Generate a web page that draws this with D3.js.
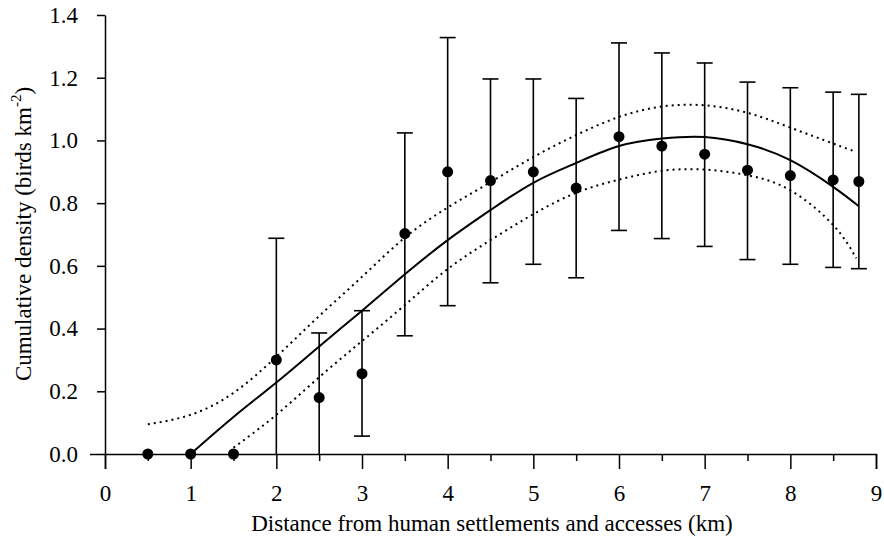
<!DOCTYPE html>
<html>
<head>
<meta charset="utf-8">
<script src="https://cdn.jsdelivr.net/npm/d3@7/dist/d3.min.js"></script>
<style>
  body { margin: 0; background: #fff; }
</style>
</head>
<body>
<div id="chart"></div>
<script>
// observed means with error bars (km, birds km^-2)
const distances = [0.5, 1, 1.5, 2, 2.5, 3, 3.5, 4, 4.5, 5, 5.5, 6, 6.5, 7, 7.5, 8, 8.5, 8.8];
const means     = [0, 0, 0, 0.30, 0.18, 0.256, 0.703, 0.90, 0.872, 0.90, 0.848, 1.012, 0.982, 0.956, 0.905, 0.888, 0.874, 0.869];
const lows      = [null, null, null, 0, 0, 0.057, 0.377, 0.473, 0.546, 0.605, 0.562, 0.713, 0.687, 0.662, 0.620, 0.605, 0.595, 0.591];
const highs     = [null, null, null, 0.688, 0.386, 0.457, 1.024, 1.328, 1.196, 1.196, 1.134, 1.311, 1.279, 1.247, 1.186, 1.168, 1.154, 1.147];

// fitted curve and confidence band
const fitX   = [1, 1.5, 2, 2.5, 3, 3.5, 4, 4.5, 5, 5.5, 6, 6.5, 7, 7.5, 8, 8.5, 8.8];
const fitY   = [0, 0.118, 0.228, 0.343, 0.457, 0.573, 0.682, 0.778, 0.865, 0.928, 0.982, 1.006, 1.011, 0.988, 0.937, 0.852, 0.79];
const upperX = [0.5, 1, 1.5, 2, 2.5, 3, 3.5, 4, 4.5, 5, 5.5, 6, 6.5, 7, 7.5, 8, 8.5, 8.75];
const upperY = [0.095, 0.125, 0.195, 0.31, 0.44, 0.565, 0.69, 0.786, 0.867, 0.947, 1.017, 1.075, 1.108, 1.112, 1.088, 1.041, 0.99, 0.965];
const lowerX = [1.5, 2, 2.5, 3, 3.5, 4, 4.5, 5, 5.5, 6, 6.5, 7, 7.5, 8, 8.5, 8.77];
const lowerY = [0.02, 0.125, 0.245, 0.36, 0.475, 0.59, 0.682, 0.765, 0.833, 0.875, 0.903, 0.907, 0.889, 0.841, 0.73, 0.624];

const xTicks = [0, 1, 2, 3, 4, 5, 6, 7, 8, 9];
const xMinorTicks = [0.5, 1.5, 2.5, 3.5, 4.5, 5.5, 6.5, 7.5, 8.5];
const yTicks = [0, 0.2, 0.4, 0.6, 0.8, 1.0, 1.2, 1.4];

const serif = "'Liberation Serif', 'Times New Roman', Times, serif";
const width = 884, height = 541;
const margin = { top: 15, right: 8, bottom: 87, left: 105 };

const svg = d3.select('#chart')
  .append('svg')
  .attr('width', width)
  .attr('height', height);

const x = d3.scaleLinear().domain([0, 9]).range([margin.left, width - margin.right]);
const y = d3.scaleLinear().domain([0, 1.4]).range([height - margin.bottom, margin.top]);

// axes
const xAxis = svg.append('g')
  .attr('transform', `translate(0,${y(0)})`)
  .call(d3.axisBottom(x).tickValues(xTicks).tickSize(15).tickPadding(16).tickFormat(d3.format('d')));
svg.append('g')
  .attr('transform', `translate(0,${y(0)})`)
  .call(d3.axisBottom(x).tickValues(xMinorTicks).tickSize(7).tickFormat(''))
  .select('.domain').remove();

const yAxis = svg.append('g')
  .attr('transform', `translate(${x(0)},0)`)
  .call(d3.axisLeft(y).tickValues(yTicks).tickSize(8).tickPadding(19).tickSizeOuter(0).tickFormat(d3.format('.1f')));

// the zero tick on y runs as far as the x ticks do
yAxis.selectAll('.tick').filter(d => d === 0).select('line').attr('x2', -15);

svg.selectAll('.domain').attr('stroke', '#000').attr('stroke-width', 1.5);
svg.selectAll('.tick line').attr('stroke', '#000').attr('stroke-width', 1.5);
svg.selectAll('.tick text')
  .attr('font-family', serif)
  .attr('font-size', 23)
  .attr('fill', '#000');

// axis titles
svg.append('text')
  .attr('x', 492)
  .attr('y', 531)
  .attr('text-anchor', 'middle')
  .attr('font-family', serif)
  .attr('font-size', 23)
  .text('Distance from human settlements and accesses (km)');

const yTitle = svg.append('text')
  .attr('transform', `translate(31,234) rotate(-90)`)
  .attr('text-anchor', 'middle')
  .attr('font-family', serif)
  .attr('font-size', 23);
yTitle.append('tspan').text('Cumulative density (birds km');
yTitle.append('tspan').attr('dy', -10).attr('font-size', 15).text('-2');
yTitle.append('tspan').attr('dy', 10).text(')');

// fitted curve and band
const line = d3.line()
  .x(d => x(d[0]))
  .y(d => y(d[1]))
  .curve(d3.curveNatural);

svg.append('path')
  .datum(d3.zip(upperX, upperY))
  .attr('d', line)
  .attr('fill', 'none')
  .attr('stroke', '#000')
  .attr('stroke-width', 2)
  .attr('stroke-dasharray', '2,4');

svg.append('path')
  .datum(d3.zip(lowerX, lowerY))
  .attr('d', line)
  .attr('fill', 'none')
  .attr('stroke', '#000')
  .attr('stroke-width', 2)
  .attr('stroke-dasharray', '2,4');

svg.append('path')
  .datum(d3.zip(fitX, fitY))
  .attr('d', line)
  .attr('fill', 'none')
  .attr('stroke', '#000')
  .attr('stroke-width', 2);

// error bars
const points = distances.map((d, i) => ({ x: d, m: means[i], lo: lows[i], hi: highs[i] }));
const bars = svg.append('g')
  .selectAll('g')
  .data(points.filter(p => p.hi !== null))
  .enter()
  .append('g')
  .attr('stroke', '#000')
  .attr('stroke-width', 1.6);

bars.append('line')
  .attr('x1', d => x(d.x)).attr('x2', d => x(d.x))
  .attr('y1', d => y(d.lo)).attr('y2', d => y(d.hi));
bars.append('line')
  .attr('x1', d => x(d.x) - 8).attr('x2', d => x(d.x) + 8)
  .attr('y1', d => y(d.hi)).attr('y2', d => y(d.hi));
bars.filter(d => d.lo > 0).append('line')
  .attr('x1', d => x(d.x) - 8).attr('x2', d => x(d.x) + 8)
  .attr('y1', d => y(d.lo)).attr('y2', d => y(d.lo));

// means
svg.append('g')
  .selectAll('circle')
  .data(points)
  .enter()
  .append('circle')
  .attr('cx', d => x(d.x))
  .attr('cy', d => y(d.m))
  .attr('r', 5.5)
  .attr('fill', '#000');
</script>
</body>
</html>
